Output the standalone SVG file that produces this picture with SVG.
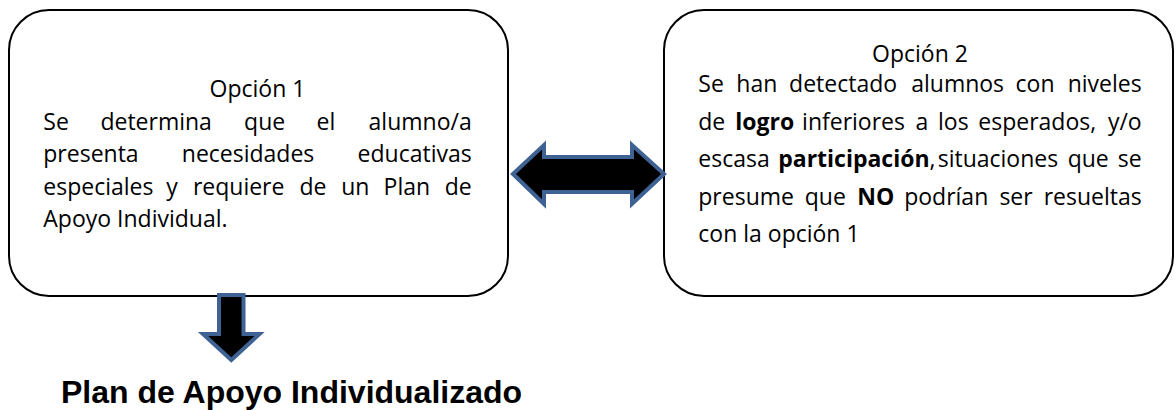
<svg xmlns="http://www.w3.org/2000/svg" width="1176" height="410" viewBox="0 0 1176 410">
  <style>
    .box { fill: #ffffff; stroke: #000000; stroke-width: 2; }
    .arrow { fill: #000000; stroke: #3E6293; stroke-width: 4; stroke-linejoin: miter; }
    .t { font-family: "Open Sans", "Noto Sans", sans-serif; font-size: 23px; fill: #000000; }
    .b { font-weight: 700; }
    .mid { text-anchor: middle; }
    .end { text-anchor: end; }
    .title { font-family: "Liberation Sans", Arial, sans-serif; font-size: 32px; font-weight: 700; fill: #000000; }
  </style>
  <rect width="1176" height="410" fill="#ffffff"/>

  <g id="opcion1">
    <rect class="box" x="9" y="10" width="499" height="286" rx="40" ry="40"/>
    <text class="t mid" x="257.5" y="97">Opción 1</text>
    <text class="t" y="130"><tspan x="43.3">Se</tspan><tspan x="100.4">determina</tspan><tspan x="244.1">que</tspan><tspan x="316.5">el</tspan></text>
    <text class="t end" x="471.7" y="130">alumno/a</text>
    <text class="t" y="162.3"><tspan x="43.3">presenta</tspan><tspan x="181.8">necesidades</tspan></text>
    <text class="t end" x="471.7" y="162.3">educativas</text>
    <text class="t" y="194.5"><tspan x="43.3">especiales</tspan><tspan x="166.3">y</tspan><tspan x="192.9">requiere</tspan><tspan x="299.5">de</tspan><tspan x="341.2">un</tspan><tspan x="383.6">Plan</tspan></text>
    <text class="t end" x="471.7" y="194.5">de</text>
    <text class="t" x="43.3" y="227">Apoyo Individual.</text>
  </g>

  <g id="opcion2">
    <rect class="box" x="664" y="10" width="509" height="286" rx="40" ry="40"/>
    <text class="t mid" x="920" y="62">Opción 2</text>
    <text class="t" y="92"><tspan x="698.3">Se</tspan><tspan x="736.3">han</tspan><tspan x="789.1">detectado</tspan><tspan x="911.2">alumnos</tspan><tspan x="1015.6">con</tspan></text>
    <text class="t end" x="1141.7" y="92">niveles</text>
    <text class="t" y="129.5"><tspan x="698.3">de</tspan><tspan x="735.3" class="b">logro</tspan><tspan x="802.1">inferiores</tspan><tspan x="915.4">a</tspan><tspan x="938">los</tspan><tspan x="978.3">esperados,</tspan></text>
    <text class="t end" x="1141.7" y="129.5">y/o</text>
    <text class="t" y="167"><tspan x="698.3">escasa</tspan><tspan x="778.2" class="b">participación</tspan><tspan>,</tspan><tspan x="937.7">situaciones</tspan><tspan x="1067.7">que</tspan></text>
    <text class="t end" x="1141.7" y="167">se</text>
    <text class="t" y="204.5"><tspan x="698.3">presume</tspan><tspan x="804.8">que</tspan><tspan x="857.3" class="b">NO</tspan><tspan x="904.2">podrían</tspan><tspan x="999.4">ser</tspan></text>
    <text class="t end" x="1141.7" y="204.5">resueltas</text>
    <text class="t" x="698.3" y="242">con la opción 1</text>
  </g>

  <g id="resultado">
    <text class="title" x="61" y="403">Plan de Apoyo Individualizado</text>
  </g>

  <g id="connectors">
    <polygon class="arrow" points="513,174 544,145 544,157 632,157 632,145 664,174 632,204 632,192 544,192 544,204"/>
    <polygon class="arrow" points="219,295 243.5,295 243.5,334 259.5,334 231.3,360 203,334 219,334"/>
  </g>
</svg>
